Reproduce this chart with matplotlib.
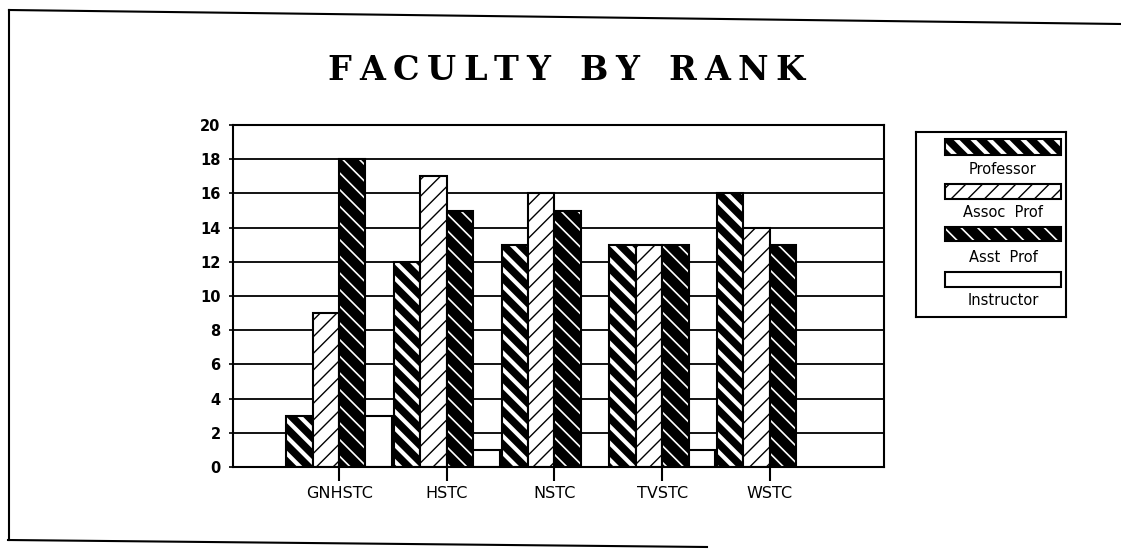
import matplotlib
matplotlib.use("Agg")
import matplotlib.pyplot as plt
from matplotlib.patches import Rectangle
from matplotlib.lines import Line2D
import numpy as np

# Faculty headcounts by college and rank
colleges = ["GNHSTC", "HSTC", "NSTC", "TVSTC", "WSTC"]
ranks = ["Professor", "Assoc  Prof", "Asst  Prof", "Instructor"]
professor = [3, 12, 13, 13, 16]
assoc_prof = [9, 17, 16, 13, 14]
asst_prof = [18, 15, 15, 13, 13]
instructor = [3, 1, 0, 1, 0]
y_ticks = [0, 2, 4, 6, 8, 10, 12, 14, 16, 18, 20]

W, H = 1121, 549
fig = plt.figure(figsize=(W / 100, H / 100), dpi=100)
fig.patch.set_facecolor("white")


def px_box(x0, y0, x1, y1):
    """Figure-fraction rectangle from pixel corners measured from the top-left."""
    return [x0 / W, 1 - y1 / H, (x1 - x0) / W, (y1 - y0) / H]


# rank styles: (fill, hatch colour, hatch, hatch linewidth)
styles = [
    ("black", "white", "\\\\", 3.0),
    ("white", "black", "//", 1.0),
    ("black", "white", "\\\\", 1.2),
    ("white", None, None, 0),
]


def styled_rect(ax, x, y, w, h, style, outline=1.5):
    fill, hcol, hatch, hlw = style
    base = Rectangle((x, y), w, h, facecolor=fill, edgecolor="none", lw=0)
    ax.add_patch(base)
    if hatch:
        hp = Rectangle((x, y), w, h, facecolor="none", edgecolor=hcol,
                       lw=0, hatch=hatch)
        if hasattr(hp, "set_hatch_linewidth"):
            hp.set_hatch_linewidth(hlw)
        ax.add_patch(hp)
    ax.add_patch(Rectangle((x, y), w, h, facecolor="none", edgecolor="black",
                           lw=outline))


ax = fig.add_axes(px_box(233, 125, 884, 467))
x = np.arange(len(colleges))
bw = 0.245
series = [professor, assoc_prof, asst_prof, instructor]
for i, (vals, st) in enumerate(zip(series, styles)):
    offs = (i - 1.5) * bw
    for xi, v in zip(x, vals):
        if v > 0:
            styled_rect(ax, xi + offs - bw / 2, 0, bw, v, st)

ax.set_xlim(-0.985, 5.06)
ax.set_ylim(0, 20)
ax.set_yticks(y_ticks)
ax.set_yticklabels([str(t) for t in y_ticks], fontsize=10.5, fontweight="bold",
                   family="DejaVu Sans")
ax.set_xticks(x)
ax.set_xticklabels(colleges, fontsize=11.5, family="DejaVu Sans")
ax.tick_params(axis="x", length=10, width=1.5, pad=4, direction="out")
ax.tick_params(axis="y", length=3, width=1.2, pad=6, direction="out")
ax.yaxis.grid(True, color="black", lw=1.3)
ax.set_axisbelow(True)
for s in ax.spines.values():
    s.set_linewidth(1.5)

# Legend panel
lax = fig.add_axes(px_box(916, 132, 1066, 317))
lax.set_xlim(916, 1066)
lax.set_ylim(317, 132)
lax.set_xticks([])
lax.set_yticks([])
for s in lax.spines.values():
    s.set_linewidth(1.5)
entries = [(139, 155, 169), (184, 199, 212), (227, 241, 257), (272, 287, 300)]
for (top, bot, ly), st, name in zip(entries, styles, ranks):
    styled_rect(lax, 945, top, 116, bot - top, st, outline=1.5)
    lax.text(1003, ly, name, ha="center", va="center", fontsize=10.5,
             family="DejaVu Sans")

# Title with wide letter spacing
title = "FACULTY BY RANK"
renderer = fig.canvas.get_renderer()
tkw = dict(fontsize=24, family="DejaVu Serif", fontweight="bold",
           va="center", ha="left")
tracking = 7.5
widths = []
for ch in title:
    t = fig.text(0, 0, ch if ch != " " else "n", **tkw)
    widths.append(t.get_window_extent(renderer).width if ch != " " else 14)
    t.remove()
total = sum(widths) + tracking * (len(title) - 1)
cx = 566 - total / 2
for ch, w in zip(title, widths):
    if ch != " ":
        fig.text(cx / W, 1 - 71 / H, ch, **tkw)
    cx += w + tracking

# Page frame
frame = [((9, 10), (9, 540)), ((9, 10), (1121, 24)), ((8, 540), (707, 547))]
for (x0, y0), (x1, y1) in frame:
    fig.add_artist(Line2D([x0 / W, x1 / W], [1 - y0 / H, 1 - y1 / H],
                          transform=fig.transFigure, color="black", lw=1.5))

fig.savefig("out.png", dpi=100, facecolor="white")
